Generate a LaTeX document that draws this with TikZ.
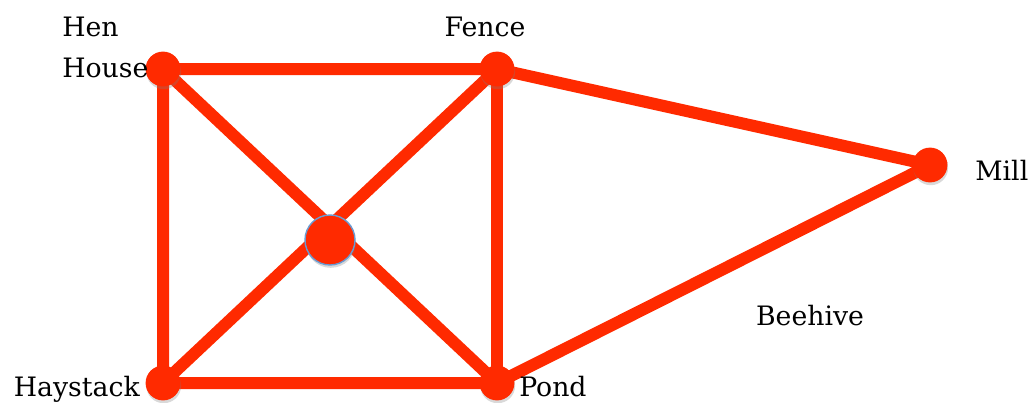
\documentclass[tikz,border=0pt]{standalone}
\usepackage{fontspec}
\setmainfont{DejaVu Serif}
\usepackage{xcolor}
\usetikzlibrary{positioning,shadows}

\definecolor{edgered}{HTML}{FF2A00}
\definecolor{rimblue}{HTML}{6A9BD2}

\begin{document}
\begin{tikzpicture}[
  x=0.025cm, y=-0.025cm,
  font=\fontsize{19pt}{22pt}\selectfont,
  % Node styles
  spot/.style={circle, fill=edgered, minimum size=0.87cm, inner sep=0pt,
    drop shadow={opacity=0.3, shadow xshift=0.5pt, shadow yshift=-2pt}},
  hub/.style={circle, fill=edgered, draw=rimblue, line width=1pt, minimum size=1.25cm, inner sep=0pt,
    drop shadow={opacity=0.3, shadow xshift=0.5pt, shadow yshift=-2pt}},
  place/.style={inner sep=0pt, align=left},
  link/.style={draw=edgered, line width=0.3cm}
]
  \useasboundingbox (0,0) rectangle (1036,402);

  % Points
  \coordinate (henhouse) at (163,69);
  \coordinate (fence) at (497,69);
  \coordinate (mill) at (930,165);
  \coordinate (middle) at (330,240);
  \coordinate (haystack) at (163,383);
  \coordinate (pond) at (497,383);

  % Edges
  \draw[link] (henhouse) -- (fence) -- (mill) -- (pond) -- (haystack) -- cycle;
  \draw[link] (fence) -- (pond);
  \draw[link] (henhouse) -- (pond);
  \draw[link] (fence) -- (haystack);

  % Dots
  \node[spot] (hh) at (henhouse) {};
  \node[spot] (fe) at (fence) {};
  \node[spot] (mi) at (mill) {};
  \node[spot] (hs) at (haystack) {};
  \node[spot] (po) at (pond) {};
  \node[hub] (mid) at (middle) {};

  % Labels
  \node[place, anchor=base west] at (62,36) {Hen};
  \node[place, anchor=base west] at (62,77) {House};
  \node[place, anchor=base] (fencelabel) at (485,36) {Fence};
  \node[place, anchor=base west] (milllabel) at (975,180) {Mill};
  \node[place, anchor=base] (beehive) at (810,325) {Beehive};
  \node[place, anchor=base east] (haylabel) at (140,396) {Haystack};
  \node[place, anchor=base west] (pondlabel) at (519,396) {Pond};
\end{tikzpicture}
\end{document}
